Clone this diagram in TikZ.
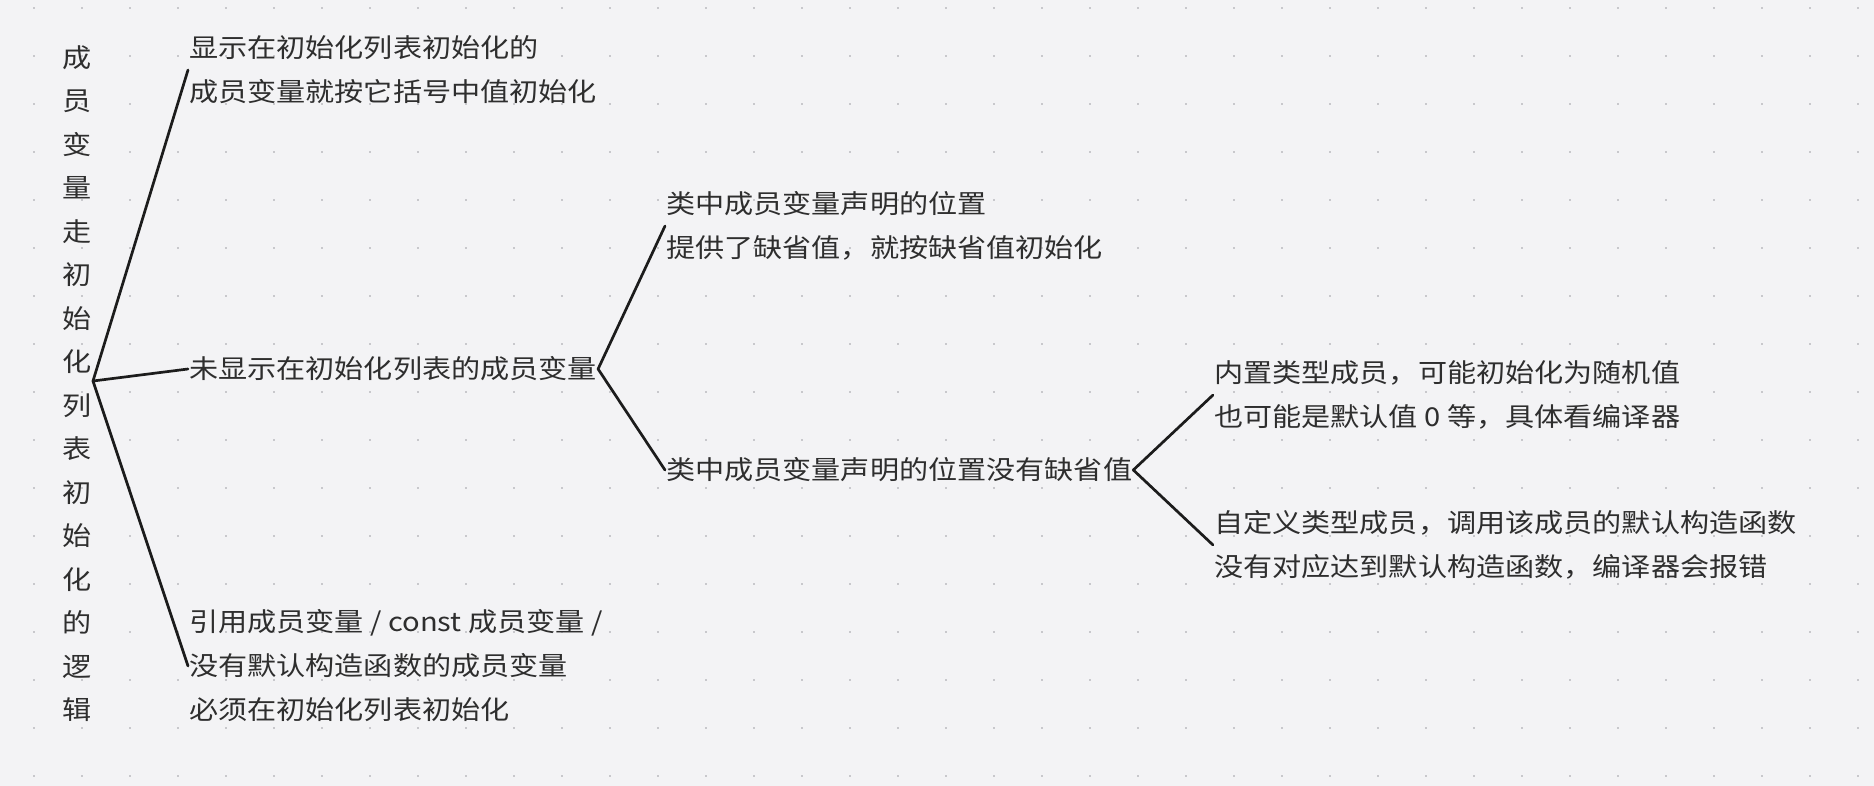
\documentclass[tikz,border=0pt]{standalone}
\usepackage{fontspec}
\setmainfont{Noto Sans CJK SC}[FakeStretch=1.12]
\definecolor{bg}{HTML}{F3F3F5}
\definecolor{dotc}{HTML}{C8C8CC}
\definecolor{txt}{HTML}{2E2E2E}
\definecolor{ln}{HTML}{1C1C1C}
\begin{document}
\begin{tikzpicture}[x=1pt,y=-1pt,
  lbl/.style={anchor=west, inner sep=1pt, align=left, text=txt, font=\fontsize{26}{44}\selectfont},
  conn/.style={draw=ln, line width=2.7pt, line cap=round, line join=round}]
\fill[bg] (0,0) rectangle (1874,786);
\useasboundingbox (0,0) rectangle (1874,786);
\foreach \i in {0,...,38}{
  \foreach \j in {0,...,16}{
    \fill[dotc] ({34+48*\i-1.3},{8+48*\j-1.3}) rectangle ++(2.6,2.6);
  }
}
\node[font=\fontsize{26}{43.5}\selectfont, align=center, inner sep=0pt, text=txt] (root) at (77,383.5)
  {成\\员\\变\\量\\走\\初\\始\\化\\列\\表\\初\\始\\化\\的\\逻\\辑};
\coordinate (r) at (93,381);
\node[lbl] (A) at (188,70) {显示在初始化列表初始化的\\成员变量就按它括号中值初始化};
\node[lbl] (B) at (188,369) {未显示在初始化列表的成员变量};
\node[lbl] (C) at (188,666) {引用成员变量 / const 成员变量 /\\没有默认构造函数的成员变量\\必须在初始化列表初始化};
\node[lbl] (D) at (665,226) {类中成员变量声明的位置\\提供了缺省值，就按缺省值初始化};
\node[lbl] (E) at (665,470) {类中成员变量声明的位置没有缺省值};
\node[lbl] (F) at (1213,395) {内置类型成员，可能初始化为随机值\\也可能是默认值 0 等，具体看编译器};
\node[lbl] (G) at (1213,545) {自定义类型成员，调用该成员的默认构造函数\\没有对应达到默认构造函数，编译器会报错};
\draw[conn] (r) -- (A.west);
\draw[conn] (r) -- (B.west);
\draw[conn] (r) -- (C.west);
\draw[conn] (D.west) -- (B.east) -- (E.west);
\draw[conn] (F.west) -- (E.east) -- (G.west);
\end{tikzpicture}
\end{document}
